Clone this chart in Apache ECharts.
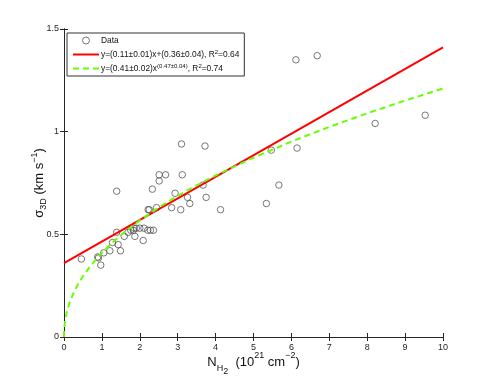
<!DOCTYPE html>
<html>
<head>
<meta charset="utf-8">
<script src="https://cdn.jsdelivr.net/npm/echarts@6/dist/echarts.min.js"></script>
<style>
html,body{margin:0;padding:0;background:#fff;}
#chart{width:491px;height:382px;}
</style>
</head>
<body>
<div id="chart"></div>
<script>
// Observed data: N_H2 (10^21 cm^-2) and sigma_3D (km s^-1)
const nH2 = [0.46,0.89,0.91,0.97,1.05,1.21,1.28,1.43,1.49,1.39,1.39,1.59,1.69,1.76,1.83,1.85,1.87,1.91,2.00,2.09,2.11,2.21,2.28,2.36,2.22,2.25,2.44,2.33,2.51,2.51,2.68,2.84,2.93,3.12,3.08,3.26,3.32,3.10,3.72,3.67,3.75,4.13,5.34,5.67,5.47,6.15,6.12,6.68,8.21,9.53];
const sigma3D = [0.38,0.39,0.385,0.35,0.41,0.42,0.46,0.45,0.42,0.71,0.51,0.49,0.51,0.52,0.52,0.53,0.49,0.53,0.53,0.47,0.53,0.52,0.52,0.52,0.62,0.62,0.63,0.72,0.76,0.79,0.79,0.63,0.70,0.79,0.62,0.68,0.65,0.94,0.93,0.74,0.68,0.62,0.65,0.74,0.91,0.92,1.35,1.37,1.04,1.08];

// Fit coefficients (as drawn)
const linSlope = 0.105, linIntercept = 0.36;
const powA = 0.41, powB = 0.47;

// Axis ticks
const xTicks = [0,1,2,3,4,5,6,7,8,9,10];
const yTicks = [0,0.5,1,1.5];

const labels = {
  data: 'Data',
  lin: 'y=(0.11±0.01)x+(0.36±0.04), R{sup|2}=0.64',
  pow: 'y=(0.41±0.02)x{sup|(0.47±0.04)}, R{sup|2}=0.74'
};

const scatterData = nH2.map((x,i)=>[x, sigma3D[i]]);
const linData = [[0, linIntercept], [10, linIntercept + linSlope*10]];
const powX = [0,0.0005,0.002,0.005,0.01,0.02,0.04,0.07,0.1,0.15,0.2,0.3,0.4,0.5,0.7,1,1.3,1.6,2,2.5,3,3.5,4,5,6,7,8,9,10];
const powData = powX.map(x=>[x, x===0 ? 0 : powA*Math.pow(x, powB)]);

const FONT = '"Liberation Sans", Arial, Helvetica, sans-serif';
const chart = echarts.init(document.getElementById('chart'), null, {renderer:'canvas'});

const axisLine = {show:true, lineStyle:{color:'#262626', width:1}};
const axisTick = {show:true, inside:true, length:4, lineStyle:{color:'#262626', width:1}};
const TXT = '#111';
const markerStyle = {color:'rgba(0,0,0,0)', borderColor:'#444', borderWidth:0.9};

chart.setOption({
  animation:false,
  backgroundColor:'#fff',
  grid:{left:64, right:48, top:29, bottom:45, containLabel:false, outerBoundsMode:'none'},
  xAxis:[{
    type:'value', min:0, max:10, interval:1,
    axisLine:axisLine, axisTick:axisTick, splitLine:{show:false},
    axisLabel:{color:'#262626', fontSize:9, fontFamily:FONT, margin:6},
    name:'{n|N}{sub|H}{sub2|2}{n|  (10}{sup|21}{n| cm}{sup|−2}{n|)}',
    nameLocation:'middle', nameGap:14, nameMoveOverlap:false,
    nameTextStyle:{fontFamily:FONT, color:TXT, rich:{
      n:{fontSize:13, fontFamily:FONT, color:TXT, lineHeight:22, verticalAlign:'middle'},
      sub:{fontSize:9, fontFamily:FONT, color:TXT, lineHeight:22, verticalAlign:'bottom'},
      sub2:{fontSize:9, fontFamily:FONT, color:TXT, lineHeight:22, verticalAlign:'bottom', padding:[0,0,-3,0]},
      sup:{fontSize:9, fontFamily:FONT, color:TXT, lineHeight:22, verticalAlign:'top'}
    }}
  },{
    type:'value', min:0, max:10, interval:1, position:'top',
    axisLine:axisLine, axisTick:axisTick, axisLabel:{show:false}, splitLine:{show:false}
  }],
  yAxis:[{
    type:'value', min:0, max:1.5, interval:0.5,
    axisLine:axisLine, axisTick:axisTick, splitLine:{show:false},
    axisLabel:{color:'#262626', fontSize:9, fontFamily:FONT, margin:5,
      formatter:v=>String(v)},
    name:'{n|σ}{sub|3D}{n| (km s}{sup|−1}{n|)}',
    nameLocation:'middle', nameGap:16, nameRotate:90, nameMoveOverlap:false,
    nameTextStyle:{fontFamily:FONT, color:TXT, rich:{
      n:{fontSize:13, fontFamily:FONT, color:TXT, lineHeight:18, verticalAlign:'middle'},
      sub:{fontSize:9, fontFamily:FONT, color:TXT, lineHeight:18, verticalAlign:'bottom'},
      sup:{fontSize:9, fontFamily:FONT, color:TXT, lineHeight:18, verticalAlign:'top'}
    }}
  },{
    type:'value', min:0, max:1.5, interval:0.5, position:'right',
    axisLine:axisLine, axisTick:axisTick, axisLabel:{show:false}, splitLine:{show:false}
  }],
  legend:{
    orient:'vertical', left:67, top:33,
    padding:[2,5,2,5], itemGap:3, itemWidth:26, itemHeight:7,
    backgroundColor:'#fff', borderColor:'#333', borderWidth:1, borderRadius:0,
    textStyle:{fontFamily:FONT, fontSize:8.4, color:TXT, lineHeight:11, padding:[0,0,0,-3],
      rich:{sup:{fontSize:6, fontFamily:FONT, color:TXT, verticalAlign:'top', lineHeight:11}}},
    data:[
      {name:labels.data, icon:'circle', itemStyle:markerStyle},
      {name:labels.lin, itemStyle:{opacity:0}},
      {name:labels.pow, itemStyle:{opacity:0}}
    ]
  },
  series:[
    {
      name:labels.data, type:'scatter', data:scatterData,
      symbol:'circle', symbolSize:6.5,
      itemStyle:markerStyle,
      z:3
    },
    {
      name:labels.lin, type:'line', data:linData, showSymbol:false, symbol:'none',
      lineStyle:{color:'#ff0000', width:2}, itemStyle:{color:'#ff0000'}, z:4
    },
    {
      name:labels.pow, type:'line', data:powData, showSymbol:false, symbol:'none', smooth:false,
      lineStyle:{color:'#66ff00', width:2, type:[6,4]}, itemStyle:{color:'#66ff00'}, z:5
    }
  ]
});
</script>
</body>
</html>
